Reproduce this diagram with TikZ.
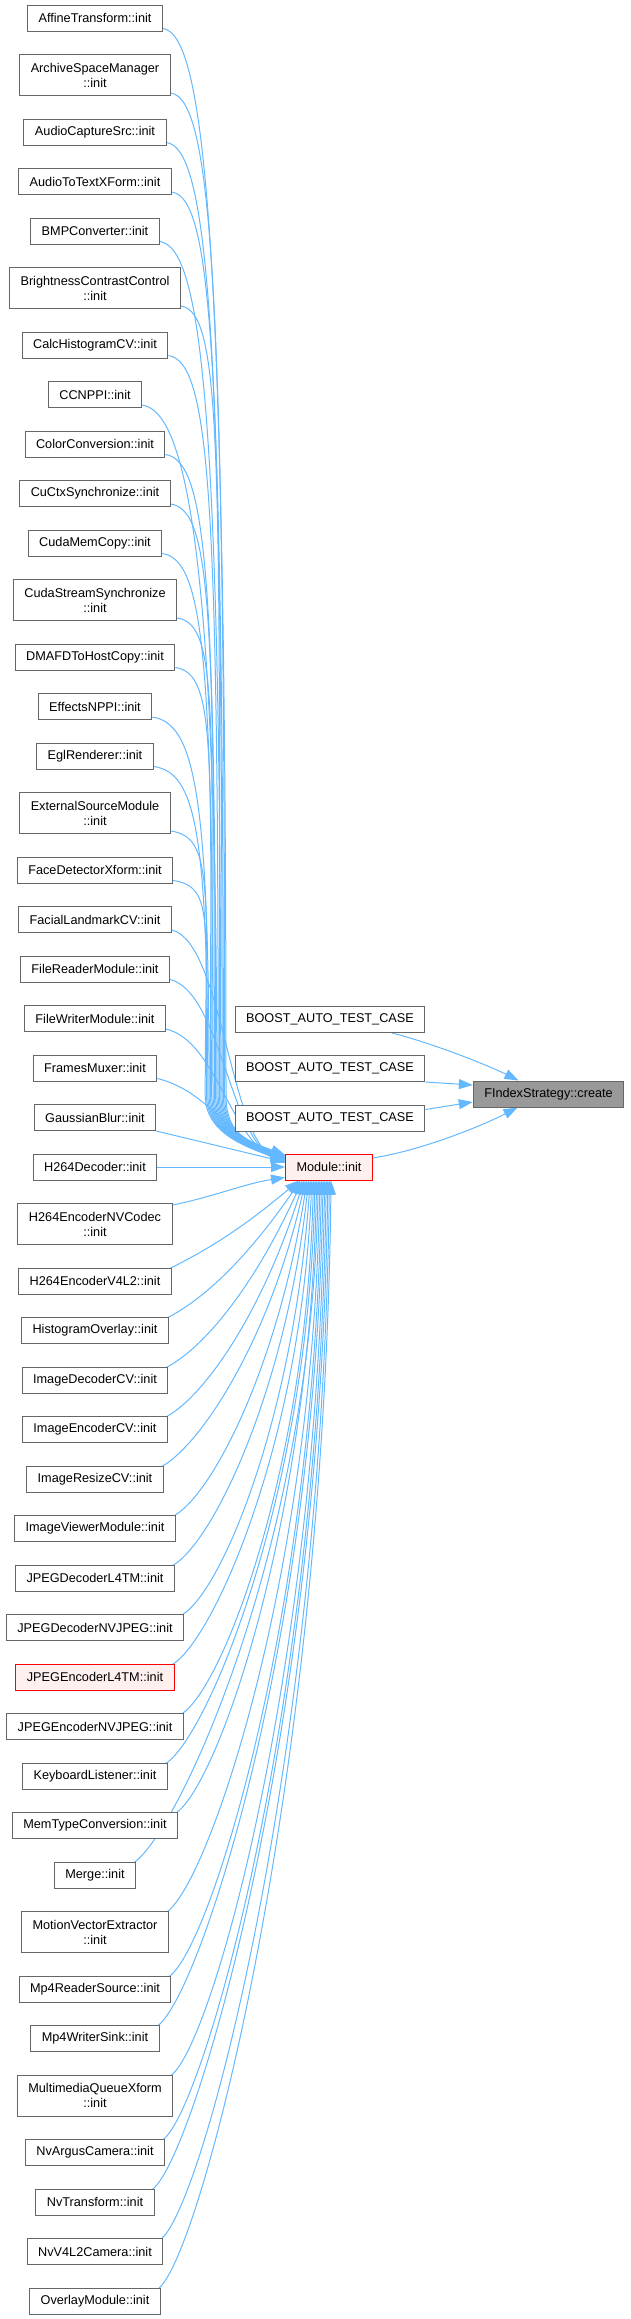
\documentclass[tikz,border=0pt]{standalone}
\usepackage{fontspec}
\setmainfont{Liberation Sans}
\usetikzlibrary{arrows.meta,calc}
\pgfdeclarelayer{bg}
\pgfsetlayers{bg,main}
\definecolor{boxgray}{HTML}{666666}
\definecolor{edgeblue}{HTML}{63B8FF}
\definecolor{hlfill}{HTML}{FFF0F0}
\definecolor{hlred}{HTML}{FF0000}
\definecolor{selgray}{HTML}{999999}
\begin{document}
\begin{tikzpicture}[x=1pt,y=-1pt,
  fn/.style={draw=boxgray,fill=white,line width=1pt,inner xsep=11pt,inner ysep=0pt,
    minimum height=26pt,align=center,font=\fontsize{12.7pt}{15pt}\selectfont},
  callline/.style={draw=edgeblue,line width=1pt,-{Triangle[length=14pt,width=10pt]}}]
\path[use as bounding box] (0,0) rectangle (630,2319);

% central nodes
\node[fn,draw=hlred,fill=hlfill] (mod) at (329,1167) {Module::init};
\node[fn,fill=selgray] (fi) at (548.5,1094) {FIndexStrategy::create};
\node[fn] (b1) at (330,1019.5) {BOOST\_AUTO\_TEST\_CASE};
\node[fn] (b2) at (330,1068.5) {BOOST\_AUTO\_TEST\_CASE};
\node[fn] (b3) at (330,1118) {BOOST\_AUTO\_TEST\_CASE};

\begin{pgfonlayer}{bg}
\draw[callline] ($(b1.south)+(62,0)$) .. controls +(40,10) and +(-30,-15) .. ($(fi.north)+(-30,0)$);
\draw[callline] (b2.south east) -- ($(fi.west)+(0,-9)$);
\draw[callline] ($(b3.north east)+(0,5)$) -- ($(fi.west)+(0,8)$);
\draw[callline] ($(mod.east)+(0,-9)$) .. controls +(50,-8) and +(-35,18) .. ($(fi.south)+(-31,0)$);
\end{pgfonlayer}

\foreach \i/\y/\hh/\t in {
0/18/13/{AffineTransform::init},
1/75/20.5/{ArchiveSpaceManager\\::init},
2/132/13/{AudioCaptureSrc::init},
3/181.5/13/{AudioToTextXForm::init},
4/231/13/{BMPConverter::init},
5/288/20.5/{BrightnessContrastControl\\::init},
6/345/13/{CalcHistogramCV::init},
7/394.5/13/{CCNPPI::init},
8/444/13/{ColorConversion::init},
9/493.5/13/{CuCtxSynchronize::init},
10/543/13/{CudaMemCopy::init},
11/600/20.5/{CudaStreamSynchronize\\::init},
12/657/13/{DMAFDToHostCopy::init},
13/706.5/13/{EffectsNPPI::init},
14/756/13/{EglRenderer::init},
15/813/20.5/{ExternalSourceModule\\::init},
16/870/13/{FaceDetectorXform::init},
17/919.5/13/{FacialLandmarkCV::init},
18/969/13/{FileReaderModule::init},
19/1018.5/13/{FileWriterModule::init},
20/1068/13/{FramesMuxer::init},
21/1117.5/13/{GaussianBlur::init},
22/1167/13/{H264Decoder::init},
23/1224/20.5/{H264EncoderNVCodec\\::init},
24/1281/13/{H264EncoderV4L2::init},
25/1330.5/13/{HistogramOverlay::init},
26/1380/13/{ImageDecoderCV::init},
27/1429.5/13/{ImageEncoderCV::init},
28/1479/13/{ImageResizeCV::init},
29/1528.5/13/{ImageViewerModule::init},
30/1578/13/{JPEGDecoderL4TM::init},
31/1627.5/13/{JPEGDecoderNVJPEG::init},
32/1677/13/{JPEGEncoderL4TM::init},
33/1726.5/13/{JPEGEncoderNVJPEG::init},
34/1776/13/{KeyboardListener::init},
35/1825.5/13/{MemTypeConversion::init},
36/1875/13/{Merge::init},
37/1932/20.5/{MotionVectorExtractor\\::init},
38/1989/13/{Mp4ReaderSource::init},
39/2038.5/13/{Mp4WriterSink::init},
40/2095.5/20.5/{MultimediaQueueXform\\::init},
41/2152.5/13/{NvArgusCamera::init},
42/2202/13/{NvTransform::init},
43/2251.5/13/{NvV4L2Camera::init},
44/2301/13/{OverlayModule::init}}{
  \ifnum\i=32 \def\dcol{hlred}\def\fcol{hlfill}\else\def\dcol{boxgray}\def\fcol{white}\fi
  \node[fn,draw=\dcol,fill=\fcol,minimum height={2*\hh pt}] (a\i) at (95,\y) {\t};
  \begin{pgfonlayer}{bg}
  \ifnum\i<17
    \pgfmathsetmacro\eXw{200+(20-\i)*1.3}
    \pgfmathsetmacro\eDy{-12+\i*0.4}
    \pgfmathsetmacro\eYs{\y+\hh-3}
    \pgfmathsetmacro\eYc{\eYs+0.2*(1095-\eYs)}
    \draw[callline] ($(a\i.south east)+(0,-3)$) .. controls +(42,6) and (\eXw,\eYc) .. (\eXw,1095)
      .. controls +(0,38) and +(-40,-15) .. ($(mod.west)+(0,\eDy)$);
  \else\ifnum\i<21
    \pgfmathsetmacro\eDy{-12+\i*0.4}
    \draw[callline] ($(a\i.south east)+(0,-3)$) .. controls +(50,12) and +(-55,-25) .. ($(mod.west)+(0,\eDy)$);
  \else\ifnum\i=21
    \draw[callline] (a21.south east) -- ($(mod.west)+(0,-5)$);
  \else\ifnum\i=22
    \draw[callline] (a22.east) -- (mod.west);
  \else\ifnum\i=23
    \draw[callline] ($(a23.north east)+(0,2)$) .. controls +(40,-8) and +(-40,6) .. ($(mod.south west)+(0,-3)$);
  \else
    \pgfmathsetmacro\eXo{14+(\i-24)*1.6}
    \pgfmathsetmacro\eYs{\y-\hh+2}
    \pgfmathsetmacro\eA{max(8,60-(\i-24)*6)}
    \pgfmathsetmacro\eCy{1181+0.55*(\eYs-1181)}
    \pgfmathsetmacro\eCx{286+\eXo-\eA}
    \draw[callline] ($(a\i.north east)+(-4,2)$) .. controls +(40,-20) and (\eCx,\eCy) .. ($(mod.south west)+(\eXo,0)$);
  \fi\fi\fi\fi\fi
  \end{pgfonlayer}
}
\end{tikzpicture}
\end{document}
